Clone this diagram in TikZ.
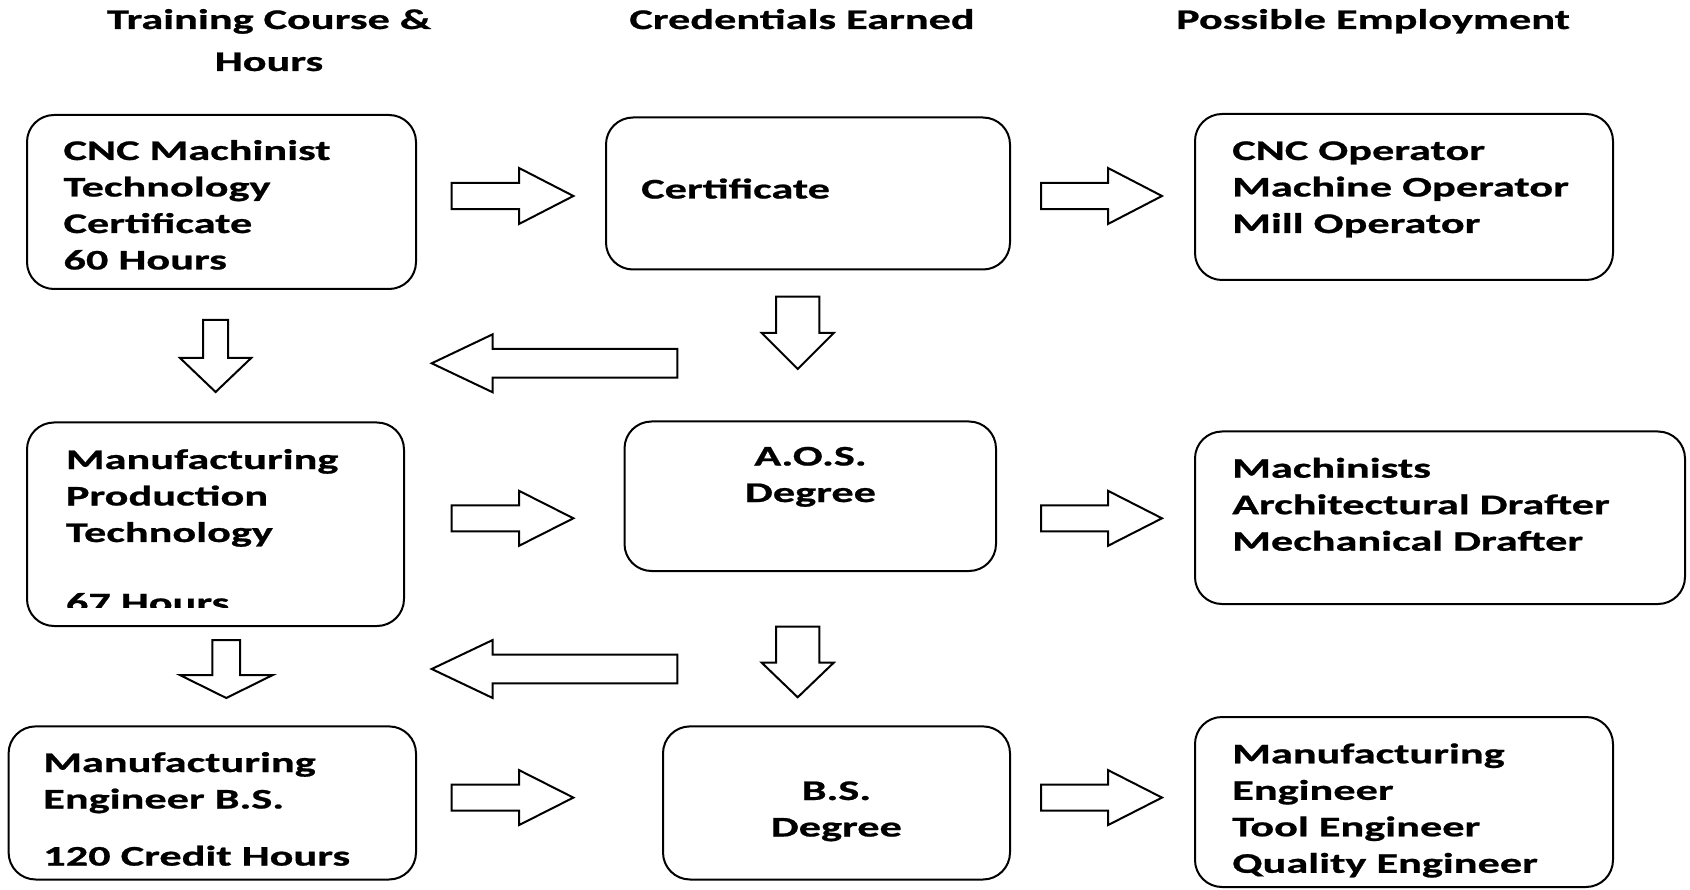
\documentclass[tikz,border=0pt]{standalone}
\usepackage{fontspec}
\newfontfamily\diafont{Carlito}[FakeStretch=1.56, FakeBold=0.8]
\newcommand\leftlines[2][36.5pt]{\vtop{\baselineskip=#1\halign{##\hfil\cr#2\crcr}}}
\newcommand\centerlines[2][36.5pt]{\vtop{\baselineskip=#1\halign{\hfil##\hfil\cr#2\crcr}}}
% horizontal block arrow: tail x, head-base x, tip x, centre y, head half-width, shaft half-width
\newcommand\harrow[6]{\draw[blockarrow] (#1,{#4-#6}) -- (#2,{#4-#6}) -- (#2,{#4-#5}) -- (#3,#4) -- (#2,{#4+#5}) -- (#2,{#4+#6}) -- (#1,{#4+#6}) -- cycle;}
% vertical block arrow: tail y, head-base y, tip y, centre x, head half-width, shaft half-width
\newcommand\varrow[6]{\draw[blockarrow] ({#4-#6},#1) -- ({#4-#6},#2) -- ({#4-#5},#2) -- (#4,#3) -- ({#4+#5},#2) -- ({#4+#6},#2) -- ({#4+#6},#1) -- cycle;}
\tikzset{
  box/.style={draw, line width=2pt, rounded corners=27pt, inner sep=0pt},
  txt/.style={inner sep=0pt, font=\diafont\bfseries\fontsize{28.4}{36.5}\selectfont},
  blockarrow/.style={draw, line width=2pt, fill=white, line join=miter},
}
\begin{document}
\begin{tikzpicture}[x=1pt,y=-1pt]
\useasboundingbox (0,0) rectangle (1690,890);
% headers
\node[txt, anchor=base] (h1) at (269,29) {\centerlines[42pt]{Training Course \&\cr Hours}};
\node[txt, anchor=base] (h2) at (802,29) {Credentials Earned};
\node[txt, anchor=base] (h3) at (1373,29) {Possible Employment};
% boxes
\node[box, minimum width=389pt, minimum height=174pt] (a1) at (221.5,202) {};
\node[box, minimum width=404pt, minimum height=152pt] (b1) at (808,193.5) {};
\node[box, minimum width=418pt, minimum height=166pt] (c1) at (1404,197) {};
\node[box, minimum width=377pt, minimum height=203.5pt] (a2) at (215.5,524.25) {};
\node[box, minimum width=371.5pt, minimum height=149.5pt] (b2) at (810.25,496.25) {};
\node[box, minimum width=490pt, minimum height=172.5pt] (c2) at (1440,517.75) {};
\node[box, minimum width=407.4pt, minimum height=153.1pt] (a3) at (212.3,802.95) {};
\node[box, minimum width=347pt, minimum height=153.1pt] (b3) at (836.5,802.95) {};
\node[box, minimum width=418pt, minimum height=170pt] (c3) at (1404,802) {};
% texts
\node[txt, anchor=base west] (ta1) at (63.3,160) {\leftlines{CNC Machinist\cr Technology\cr Certificate\cr 60 Hours}};
\node[txt, anchor=base west] (tb1) at (641,198.5) {Certificate};
\node[txt, anchor=base west] (tc1) at (1232,160) {\leftlines{CNC Operator\cr Machine Operator\cr Mill Operator}};
\node[txt, anchor=base west] (ta2) at (65.7,469) {\leftlines{Manufacturing\cr Production\cr Technology}};
\begin{scope}
\clip (30,570) rectangle (400,607.5);
\node[txt, anchor=base west] (ta2b) at (65.7,612.4) {67 Hours};
\end{scope}
\node[txt, anchor=base] (tb2) at (810.5,465.5) {\centerlines{A.O.S.\cr Degree}};
\node[txt, anchor=base west] (tc2) at (1232,477.7) {\leftlines{Machinists\cr Architectural Drafter\cr Mechanical Drafter}};
\node[txt, anchor=base west] (ta3) at (43.1,772) {\leftlines{Manufacturing\cr Engineer B.S.\cr\noalign{\vskip 20.6pt}120 Credit Hours}};
\node[txt, anchor=base] (tb3) at (836.4,800) {\centerlines{B.S.\cr Degree}};
\node[txt, anchor=base west] (tc3) at (1232,763.3) {\leftlines{Manufacturing\cr Engineer\cr Tool Engineer\cr Quality Engineer}};
% right arrows
\harrow{451.6}{519}{573.4}{196}{28}{13.2}
\harrow{1041}{1108}{1162}{196}{28}{13.2}
\harrow{451.6}{519}{573.4}{518.3}{27.5}{13}
\harrow{1041}{1108}{1162}{518.3}{27.5}{13}
\harrow{451.6}{519}{573.4}{797.6}{27.5}{13}
\harrow{1041}{1108}{1162}{797.6}{27.5}{13}
% left arrows
\harrow{677.3}{492.7}{431.7}{363.3}{29}{14.3}
\harrow{677.3}{492.7}{431.7}{669}{29}{14.3}
% down arrows
\varrow{320}{358}{392}{215.6}{35.6}{12.5}
\varrow{296.7}{333}{369}{797.7}{36}{21.7}
\varrow{640}{675}{698}{226.3}{46.5}{13.9}
\varrow{626.7}{662.7}{697.3}{797.7}{36}{21.7}
\end{tikzpicture}
\end{document}
